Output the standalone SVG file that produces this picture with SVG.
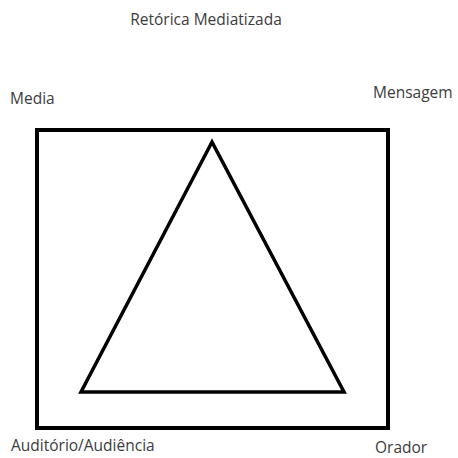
<svg xmlns="http://www.w3.org/2000/svg" width="458" height="458" viewBox="0 0 458 458">
<style>
text{font-family:"Open Sans","Liberation Sans",sans-serif;font-size:15.5px;fill:#3c3c3c}
.shape{fill:none;stroke:#000;stroke-linejoin:miter}
</style>
<rect width="458" height="458" fill="#fff"/>
<g id="title"><text x="206" y="25" text-anchor="middle">Retórica Mediatizada</text></g>
<g id="frame"><rect class="shape" x="37" y="130" width="351" height="298" stroke-width="4"/></g>
<g id="triangle"><polygon class="shape" points="212,142 81,392 344,392" stroke-width="3.5"/></g>
<g id="media"><text x="10" y="104">Media</text></g>
<g id="mensagem"><text x="373" y="98">Mensagem</text></g>
<g id="auditorio"><text x="11" y="451">Auditório/Audiência</text></g>
<g id="orador"><text x="375" y="453">Orador</text></g>
<g id="connectors"></g>
</svg>
